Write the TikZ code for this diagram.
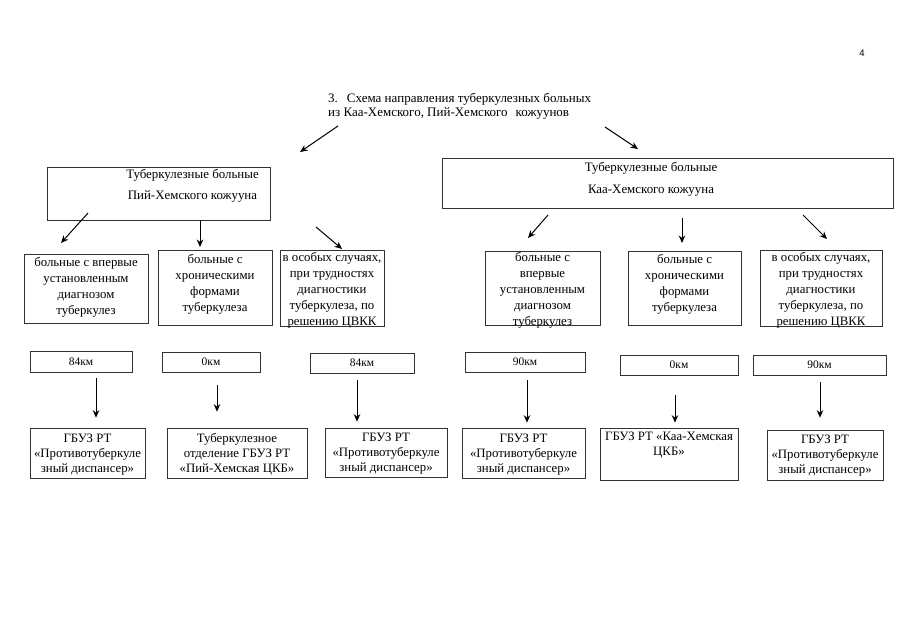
\documentclass[tikz,border=0pt]{standalone}
\usepackage{fontspec}
\setmainfont{Liberation Serif}
\newfontfamily\pagefont{Liberation Sans}
\usetikzlibrary{arrows.meta}
% text style, name, cx, cy, width, height, text offset, text
\newcommand{\tbox}[8]{%
  \node[bx, minimum width=#5pt, minimum height=#6pt] (#2) at (#3,#4) {};
  \node[#1] (#2t) at (#3,#4+#7) {#8};}
\begin{document}
\begin{tikzpicture}[x=1pt,y=-1pt,
  bx/.style={draw=black!80, line width=0.6pt, inner sep=0pt, align=center,
    font=\fontsize{12.8}{16}\selectfont},
  txt/.style={inner sep=0pt, align=center, font=\fontsize{12.8}{16}\selectfont},
  gtxt/.style={inner sep=0pt, align=center, font=\fontsize{12.8}{15}\selectfont},
  kmbox/.style={bx, font=\fontsize{11.5}{12}\selectfont},
  bigtxt/.style={align=center, inner sep=0pt, font=\fontsize{12.9}{21}\selectfont},
  arr/.style={-{Stealth[length=7.5pt,width=6.5pt]}, line width=1pt}]
\useasboundingbox (0,0) rectangle (905,636);

% page number
\node[inner sep=0pt, font=\pagefont\fontsize{9.5}{10}\selectfont] (pg) at (862,53) {4};

% title
\node[anchor=west, align=left, inner sep=0pt, font=\fontsize{13}{14}\selectfont] (title) at (328,106)
  {3.\hspace{9pt}Схема направления туберкулезных больных\\из Каа-Хемского, Пий-Хемского\hspace{8pt}кожуунов};

% big boxes
\node[bx, minimum width=223pt, minimum height=53pt] (L0) at (158.5,193.5) {};
\node[bigtxt] (L0t) at (192.5,186) {Туберкулезные больные\\Пий-Хемского кожууна};
\node[bx, minimum width=451pt, minimum height=50pt] (R0) at (667.5,183) {};
\node[bigtxt, font=\fontsize{12.9}{22}\selectfont] (R0t) at (651,179.5) {Туберкулезные больные\\Каа-Хемского кожууна};

% second level
\tbox{txt}{A}{86}{288.5}{124}{69}{-1}{больные с впервые\\установленным\\диагнозом\\туберкулез}
\tbox{txt}{B}{215}{287.5}{114}{75}{-3}{больные с\\хроническими\\формами\\туберкулеза}
\tbox{txt}{C}{332}{288}{104}{76}{2.5}{в особых случаях,\\при трудностях\\диагностики\\туберкулеза, по\\решению ЦВКК}
\tbox{txt}{D}{542.5}{288}{115}{74}{2.5}{больные с\\впервые\\установленным\\диагнозом\\туберкулез}
\tbox{txt}{E}{684.5}{288}{113}{74}{-4}{больные с\\хроническими\\формами\\туберкулеза}
\tbox{txt}{F}{821}{288}{122}{76}{2.5}{в особых случаях,\\при трудностях\\диагностики\\туберкулеза, по\\решению ЦВКК}

% km boxes
\node[kmbox, minimum width=102pt, minimum height=21pt] (k1) at (81,361.5) {84км};
\node[kmbox, minimum width=98pt, minimum height=20pt] (k2) at (211,362) {0км};
\node[kmbox, minimum width=104pt, minimum height=20pt] (k3) at (362,363) {84км};
\node[kmbox, minimum width=120pt, minimum height=20pt] (k4) at (525,362) {90км};
\node[kmbox, minimum width=118pt, minimum height=20pt] (k5) at (679,365) {0км};
\node[kmbox, minimum width=133pt, minimum height=20pt] (k6) at (819.5,365) {90км};

% bottom boxes
\tbox{gtxt}{g1}{87.5}{453}{115}{50}{1.5}{ГБУЗ РТ\\«Противотуберкуле\\зный диспансер»}
\tbox{gtxt}{g2}{237}{453}{140}{50}{1.5}{Туберкулезное\\отделение ГБУЗ РТ\\«Пий-Хемская ЦКБ»}
\tbox{gtxt}{g3}{386}{452.5}{122}{49}{1.5}{ГБУЗ РТ\\«Противотуберкуле\\зный диспансер»}
\tbox{gtxt}{g4}{523.5}{453}{123}{50}{1.5}{ГБУЗ РТ\\«Противотуберкуле\\зный диспансер»}
\tbox{gtxt}{g5}{669}{454}{138}{52}{-8.5}{ГБУЗ РТ «Каа-Хемская\\ЦКБ»}
\tbox{gtxt}{g6}{825}{455}{116}{50}{1}{ГБУЗ РТ\\«Противотуберкуле\\зный диспансер»}

% free arrow ends
\coordinate (t1s) at (338,126); \coordinate (t1e) at (300,152);
\coordinate (t2s) at (605,127); \coordinate (t2e) at (638,149);
\coordinate (l1s) at (88,213);  \coordinate (l1e) at (61,243);
\coordinate (l2s) at (200,220); \coordinate (l2e) at (200,247);
\coordinate (l3s) at (316,227); \coordinate (l3e) at (342,249);
\coordinate (r1s) at (548,215); \coordinate (r1e) at (528,238);
\coordinate (r2s) at (682,218); \coordinate (r2e) at (682,243);
\coordinate (r3s) at (803,215); \coordinate (r3e) at (827,239);

\draw[arr] (t1s) -- (t1e);
\draw[arr] (t2s) -- (t2e);
\draw[arr] (l1s) -- (l1e);
\draw[arr] (l2s) -- (l2e);
\draw[arr] (l3s) -- (l3e);
\draw[arr] (r1s) -- (r1e);
\draw[arr] (r2s) -- (r2e);
\draw[arr] (r3s) -- (r3e);

% km -> institution arrows
\draw[arr, shorten <=6pt, shorten >=10pt] (k1.south -| 96,0) -- (g1.north -| 96,0);
\draw[arr, shorten <=13pt, shorten >=16pt] (k2.south -| 217,0) -- (g2.north -| 217,0);
\draw[arr, shorten <=7pt, shorten >=6pt] (k3.south -| 357,0) -- (g3.north -| 357,0);
\draw[arr, shorten <=8pt, shorten >=5pt] (k4.south -| 527,0) -- (g4.north -| 527,0);
\draw[arr, shorten <=20pt, shorten >=5pt] (k5.south -| 675,0) -- (g5.north -| 675,0);
\draw[arr, shorten <=7pt, shorten >=12pt] (k6.south -| 820,0) -- (g6.north -| 820,0);
\end{tikzpicture}
\end{document}
